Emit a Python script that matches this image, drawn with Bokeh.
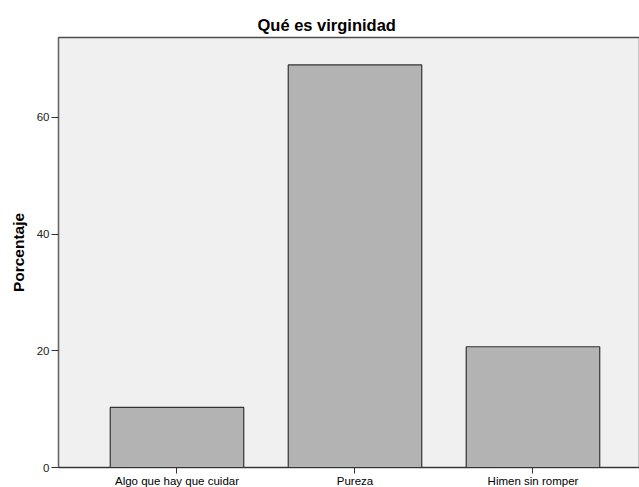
from bokeh.plotting import figure
from bokeh.models import Range1d, FixedTicker, ColumnDataSource
from bokeh.embed import file_html
from bokeh.resources import INLINE

categories = ["Algo que hay que cuidar", "Pureza", "Himen sin romper"]
percentages = [10.3, 69.0, 20.7]
y_ticks = [0, 20, 40, 60]

positions = list(range(len(categories)))
source = ColumnDataSource(dict(x=positions, top=percentages, cat=categories))

p = figure(frame_width=582, frame_height=430, output_backend="svg", toolbar_location=None,
           x_range=Range1d(-0.6657, 2.604), y_range=Range1d(0, 73.7),
           min_border_left=58, min_border_right=0, min_border_top=37, min_border_bottom=0)

p.background_fill_color = "#f0f0f0"
p.border_fill_color = "white"
p.outline_line_color = "#4d4d4d"
p.outline_line_width = 1.5
p.xgrid.visible = False
p.ygrid.visible = False

p.vbar(x="x", top="top", bottom=0, width=0.75, source=source,
       fill_color="#b3b3b3", line_color="#333333", line_width=1.2)

p.title.text = "Qué es virginidad"
p.title.align = "left"
p.title.offset = 199
p.title.text_font = "Liberation Sans"
p.title.text_font_size = "16.5px"
p.title.text_font_style = "bold"
p.title.text_color = "black"
p.title.standoff = 8

p.yaxis.ticker = FixedTicker(ticks=y_ticks)
p.yaxis.axis_label = "Porcentaje"
p.yaxis.axis_label_text_font = "Liberation Sans"
p.yaxis.axis_label_text_font_size = "15.5px"
p.yaxis.axis_label_text_font_style = "bold"
p.yaxis.axis_label_text_color = "black"
p.yaxis.axis_label_standoff = 7
p.yaxis.major_label_text_font = "Liberation Sans"
p.yaxis.major_label_text_font_size = "11.5px"
p.yaxis.major_label_text_color = "#222222"
p.yaxis.major_label_standoff = 2
p.yaxis.major_tick_out = 7
p.yaxis.major_tick_in = 0
p.yaxis.minor_tick_out = 0
p.yaxis.minor_tick_in = 0
p.yaxis.axis_line_color = "#666666"
p.yaxis.major_tick_line_color = "#333333"

p.xaxis.ticker = FixedTicker(ticks=positions)
p.xaxis.major_label_overrides = {i: c for i, c in zip(positions, categories)}
p.xaxis.major_label_text_font = "Liberation Sans"
p.xaxis.major_label_text_font_size = "11.5px"
p.xaxis.major_label_text_color = "black"
p.xaxis.major_label_standoff = 1
p.xaxis.major_tick_out = 6
p.xaxis.major_tick_in = 0
p.xaxis.minor_tick_out = 0
p.xaxis.minor_tick_in = 0
p.xaxis.axis_line_color = "#333333"
p.xaxis.major_tick_line_color = "#333333"

open("out.html", "w").write(file_html(p, INLINE))
